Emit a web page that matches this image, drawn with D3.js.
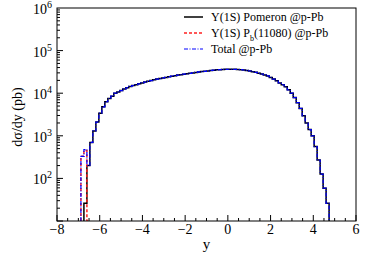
<!DOCTYPE html>
<html>
<head>
<meta charset="utf-8">
<script src="https://cdn.jsdelivr.net/npm/d3@7"></script>
</head>
<body style="margin:0;background:#fff;font-family:'Liberation Serif'">
<div id="visual" style="position:relative;width:374px;height:260px"></div>
<script>
/* histogram binning: 100 bins from -8 to 6 */
var binLow = -8, binWidth = 0.14, nBins = 100;

/* Upsilon(1S) Pomeron, bins 9..90 (pb) */
var pomeronStart = 9;
var pomeronValues = [26, 200, 700, 1300, 2100, 3400, 4800, 6300, 7500, 8500,
    10000, 10700, 11500, 12500, 13400, 14400, 15100, 15800, 16600, 17400,
    18200, 19000, 19800, 20700, 21400, 22100, 22800, 23500, 24400, 25100,
    25800, 26600, 27200, 27900, 28500, 29300, 30000, 30800, 31500, 32200,
    32700, 33400, 34200, 34700, 35400, 35700, 36100, 36300, 36500, 36500,
    36300, 36000, 35600, 35000, 34300, 33200, 32000, 30900, 29500, 28200,
    26900, 25400, 23400, 21400, 19500, 17400, 15800, 14100, 12000, 10000,
    7900, 6000, 4400, 2950, 2000, 1400, 1000, 560, 270, 126,
    59, 26];

/* Upsilon(1S) Pb(11080), bins 8..10 (pb) */
var pbStart = 8;
var pbValues = [330, 450, 2];

var legendLabels = ["Pomeron @p-Pb", "(11080) @p-Pb", "Total @p-Pb"];
var xTicks = [-8, -6, -4, -2, 0, 2, 4, 6];
var yTicks = [1e2, 1e3, 1e4, 1e5, 1e6];

function fillBins(start, vals) {
    var arr = new Array(nBins).fill(0);
    vals.forEach(function (v, i) { arr[start + i] = v; });
    return arr;
}
var pomeron = fillBins(pomeronStart, pomeronValues);
var pb = fillBins(pbStart, pbValues);
var total = pomeron.map(function (v, i) { return v + pb[i]; });

var W = 374, H = 260;
var margin = {top: 8, right: 18, bottom: 39, left: 57};

var box = d3.select("#visual");
var svg = box.append("svg")
    .attr("width", W)
    .attr("height", H)
    .style("position", "absolute").style("left", "0px").style("top", "0px");

var x = d3.scaleLinear().domain([-8, 6]).range([margin.left, W - margin.right]);
var y = d3.scaleLog().domain([10, 1e6]).range([H - margin.bottom, margin.top]).clamp(true);

svg.append("clipPath").attr("id", "frame")
    .append("rect")
    .attr("x", margin.left).attr("y", margin.top)
    .attr("width", x(6) - x(-8)).attr("height", y(10) - y(1e6));

/* step outline of a histogram, zero bins drop to the frame bottom */
function stepPoints(vals) {
    var pts = [], first = -1, last = -1;
    vals.forEach(function (v, i) { if (v > 0) { if (first < 0) first = i; last = i; } });
    pts.push([binLow + first * binWidth, 10]);
    for (var i = first; i <= last; i++) {
        var lo = binLow + i * binWidth, v = Math.max(vals[i], 10);
        pts.push([lo, v]);
        pts.push([lo + binWidth, v]);
    }
    pts.push([binLow + (last + 1) * binWidth, 10]);
    return pts;
}

var line = d3.line()
    .x(function (d) { return x(d[0]); })
    .y(function (d) { return y(d[1]); });

var g = svg.append("g").attr("clip-path", "url(#frame)");

g.append("path").attr("d", line(stepPoints(pomeron)))
    .attr("fill", "none").attr("stroke", "#000").attr("stroke-width", 1.5);
g.append("path").attr("d", line(stepPoints(pb)))
    .attr("fill", "none").attr("stroke", "#ff2020").attr("stroke-width", 1.5)
    .attr("stroke-dasharray", "3,2");
g.append("path").attr("d", line(stepPoints(total)))
    .attr("fill", "none").attr("stroke", "#0000ff").attr("stroke-width", 1.2)
    .attr("stroke-dasharray", "4,1.5,1,1.5");

/* frame */
svg.append("rect")
    .attr("x", x(-8)).attr("y", y(1e6))
    .attr("width", x(6) - x(-8)).attr("height", y(10) - y(1e6))
    .attr("fill", "none").attr("stroke", "#000").attr("stroke-width", 1);

/* html label helper: (px, py) is the anchor point */
function label(px, py, size, anchor, html, rotate) {
    var tx = anchor === "end" ? "-100%" : anchor === "start" ? "0" : "-50%";
    return box.append("div")
        .attr("style", "position:absolute;white-space:nowrap;line-height:1;color:#000;" +
            "font-family:'Liberation Serif';font-size:" + size + "px;" +
            "left:" + px + "px;top:" + py + "px;" +
            "transform:translate(" + tx + ",-50%)" + (rotate ? " rotate(" + rotate + "deg)" : "") + ";")
        .html(html);
}

/* x axis ticks, inside */
d3.range(-8, 6.01, 0.5).forEach(function (t) {
    var major = Math.abs(t - Math.round(t / 2) * 2) < 1e-6;
    svg.append("line")
        .attr("x1", x(t)).attr("x2", x(t))
        .attr("y1", y(10)).attr("y2", y(10) - (major ? 6 : 3))
        .attr("stroke", "#000");
});
xTicks.forEach(function (d) {
    label(x(d), y(10) + 9, 14, "middle", d < 0 ? "\u2212" + (-d) : String(d));
});
label((x(-8) + x(6)) / 2, 244, 15, "middle", "y");

/* y axis ticks, inside, log minors */
for (var dec = 1; dec < 6; dec++) {
    for (var m = 1; m < 10; m++) {
        var v = m * Math.pow(10, dec);
        svg.append("line")
            .attr("x1", x(-8)).attr("x2", x(-8) + (m === 1 ? 6 : 3))
            .attr("y1", y(v)).attr("y2", y(v))
            .attr("stroke", "#000");
    }
}
yTicks.forEach(function (d) {
    label(x(-8) - 5, y(d) + 2, 14, "end",
        "10<span style='position:relative;top:-6px;font-size:10px'>" + Math.round(Math.log10(d)) + "</span>");
});

label(18, 117, 14, "middle", "d\u03c3/dy (pb)", -90);

/* legend */
var styles = [
    {stroke: "#000", dash: null, w: 1.5},
    {stroke: "#ff2020", dash: "3,2", w: 1.5},
    {stroke: "#0000ff", dash: "4,1.5,1,1.5", w: 1.2}
];
legendLabels.forEach(function (lab, i) {
    var ly = 17 + i * 16;
    svg.append("line")
        .attr("x1", 184).attr("x2", 203)
        .attr("y1", ly).attr("y2", ly)
        .attr("stroke", styles[i].stroke)
        .attr("stroke-width", styles[i].w)
        .attr("stroke-dasharray", styles[i].dash);
    var html = i < 2 ? "\u03a5(1S) " : "";
    if (i === 1) {
        html += "P<span style='position:relative;top:4px;font-size:8px'>b</span>";
    }
    label(211, ly, 12, "start", html + lab);
});
</script>
</body>
</html>
